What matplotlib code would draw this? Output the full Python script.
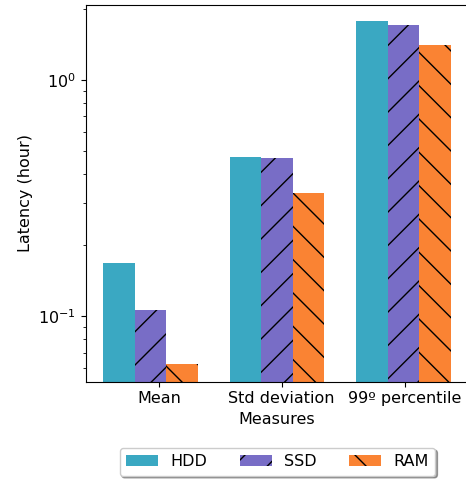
import numpy as np
import matplotlib
matplotlib.use("Agg")
import matplotlib.pyplot as plt

measures = ["Mean", "Std deviation", "99º percentile"]
hdd = [0.168, 0.473, 1.77]
ssd = [0.106, 0.466, 1.71]
ram = [0.0624, 0.333, 1.41]
tick_pos = [0.066, 1.037, 2.012]

BAR_W = 0.25
plt.rcParams["font.size"] = 11.5

fig = plt.figure(figsize=(4.66, 4.84), dpi=100)
ax = fig.add_axes([0.1841, 0.2114, 0.8208, 0.7789])

x = np.arange(len(measures))
ax.bar(x - BAR_W, hdd, BAR_W, color="#3aa8c2", label="HDD")
ax.bar(x, ssd, BAR_W, color="#786dc6", hatch="/", label="SSD")
ax.bar(x + BAR_W, ram, BAR_W, color="#fa8333", hatch="\\", label="RAM")

ax.set_yscale("log")
ax.set_ylim(0.0527, 2.08)
ax.set_xlim(-0.5125, 2.5125)
ax.set_xticks(tick_pos)
ax.set_xticklabels(measures)
ax.set_xlabel("Measures")
ax.set_ylabel("Latency (hour)")

ax.legend(loc="upper center", bbox_to_anchor=(0.5955, 0.0744),
          bbox_transform=fig.transFigure, borderaxespad=0,
          ncol=3, shadow={"ox": 1.5, "oy": -1.5}, fancybox=True)

fig.savefig("out.png", dpi=100)
